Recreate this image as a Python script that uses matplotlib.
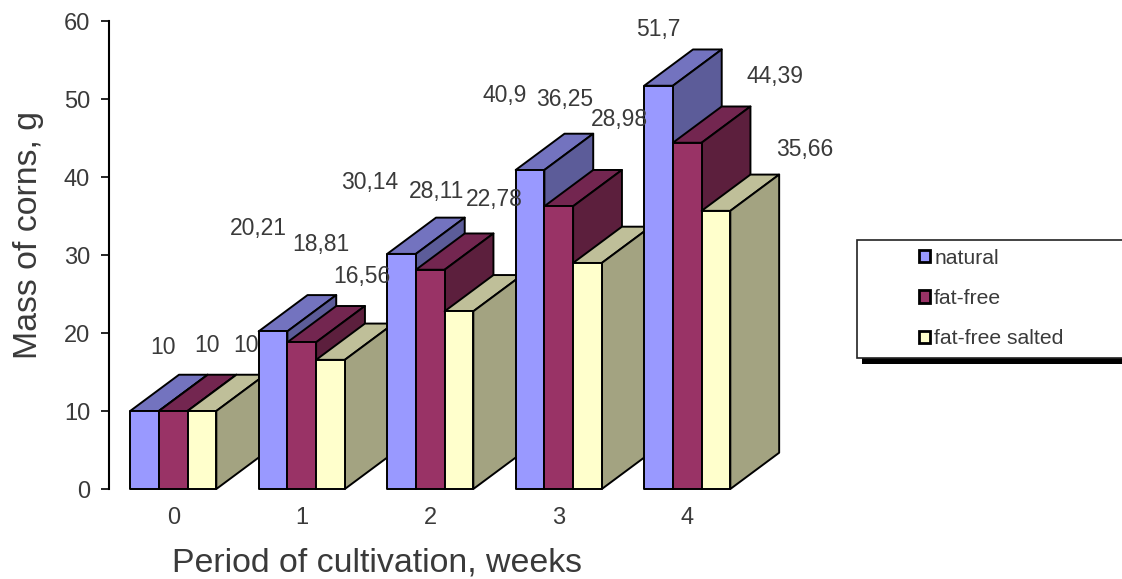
from matplotlib import pyplot as plt
from matplotlib.patches import Patch, Polygon, Rectangle
from matplotlib.transforms import IdentityTransform

weeks = ["0", "1", "2", "3", "4"]
natural = [10, 20.21, 30.14, 40.9, 51.7]
fat_free = [10, 18.81, 28.11, 36.25, 44.39]
fat_free_salted = [10, 16.56, 22.78, 28.98, 35.66]
series_names = ["natural", "fat-free", "fat-free salted"]
y_ticks = [0, 10, 20, 30, 40, 50, 60]

# label text keeps the decimal comma of the original
natural_labels = ["10", "20,21", "30,14", "40,9", "51,7"]
fat_free_labels = ["10", "18,81", "28,11", "36,25", "44,39"]
salted_labels = ["10", "16,56", "22,78", "28,98", "35,66"]

# hand placed labels in the original, pixels from the top of each bar
natural_offsets = [(18, 64), (-15, 103), (-32, 71), (-25, 74), (0, 56)]
fat_free_offsets = [(34, 66), (19, 98), (6, 78), (6, 107), (88, 66)]
salted_offsets = [(44, 66), (31, 83), (35, 112), (32, 143), (89, 61)]

FRONT = ["#9999FF", "#993366", "#FFFFCC"]
TOP = ["#7373BF", "#732650", "#BFBF99"]
SIDE = ["#5C5C99", "#5C1F3D", "#A3A381"]
TEXT = "#3A3A3A"

BAR_W = 0.2235
DEPTH_X = 0.38
DEPTH_Y = 4.65

plt.rcParams["font.family"] = ["Liberation Sans", "DejaVu Sans"]

W, H = 1122, 579
fig = plt.figure(figsize=(W / 100, H / 100), dpi=100)
ax = fig.add_axes([109 / W, (H - 489) / H, 642.5 / W, 468 / H])
ax.set_xlim(-0.5, 4.5)
ax.set_ylim(0, 60)


def draw_bar(x, value, i):
    kw = dict(edgecolor="black", linewidth=1.4, clip_on=False, joinstyle="round")
    ax.add_patch(Polygon(
        [(x, value), (x + DEPTH_X, value + DEPTH_Y),
         (x + BAR_W + DEPTH_X, value + DEPTH_Y), (x + BAR_W, value)],
        facecolor=TOP[i], **kw))
    ax.add_patch(Polygon(
        [(x + BAR_W, 0), (x + BAR_W + DEPTH_X, DEPTH_Y),
         (x + BAR_W + DEPTH_X, value + DEPTH_Y), (x + BAR_W, value)],
        facecolor=SIDE[i], **kw))
    ax.add_patch(Rectangle((x, 0), BAR_W, value, facecolor=FRONT[i], **kw))


all_values = [natural, fat_free, fat_free_salted]
all_labels = [natural_labels, fat_free_labels, salted_labels]
all_offsets = [natural_offsets, fat_free_offsets, salted_offsets]

for g in range(len(weeks)):
    for i in range(3):
        draw_bar(g + (i - 1.5) * BAR_W, all_values[i][g], i)

for g in range(len(weeks)):
    for i in range(3):
        ax.annotate(
            all_labels[i][g],
            xy=(g + (i - 1) * BAR_W, all_values[i][g]),
            xytext=all_offsets[i][g],
            textcoords="offset pixels",
            ha="center",
            va="center",
            fontsize=16.5,
            color=TEXT,
            annotation_clip=False,
            zorder=10,
        )

for side in ["top", "right", "bottom"]:
    ax.spines[side].set_visible(False)
ax.spines["left"].set_linewidth(1.5)
ax.set_xticks(range(len(weeks)))
ax.set_xticklabels(weeks)
ax.set_yticks(y_ticks)
ax.tick_params(axis="x", length=0, pad=13, labelsize=17, labelcolor=TEXT)
ax.tick_params(axis="y", direction="out", length=6, width=1.2, pad=7.5, labelsize=17, labelcolor=TEXT)

ax.set_xlabel("Period of cultivation, weeks", fontsize=24.4, color=TEXT)
ax.xaxis.set_label_coords((377 - 109) / 642.5, -(563 - 489) / 468, transform=ax.transAxes)
ax.xaxis.label.set_va("center")
ax.set_ylabel("Mass of corns, g", fontsize=24.4, color=TEXT)
ax.yaxis.set_label_coords(-(109 - 29) / 642.5, (489 - 235) / 468, transform=ax.transAxes)
ax.yaxis.label.set_va("center")

# legend box runs off the right edge, drop shadow below it
fig.add_artist(Rectangle((862, H - 364), 270, 124, transform=IdentityTransform(),
                         facecolor="black", edgecolor="none"))
fig.add_artist(Rectangle((857, H - 358), 270, 118, transform=IdentityTransform(),
                         facecolor="white", edgecolor="#222222", linewidth=1.2))
handles = [Patch(facecolor=FRONT[i], edgecolor="black", linewidth=2) for i in range(3)]
fig.legend(
    handles,
    series_names,
    loc="center left",
    bbox_to_anchor=(919 / W, (H - 298.5) / H),
    frameon=False,
    fontsize=15.2,
    labelcolor=TEXT,
    handlelength=0.52,
    handleheight=0.5,
    handletextpad=0.2,
    labelspacing=1.0,
    borderaxespad=0,
    borderpad=0,
)

fig.savefig("out.png", dpi=100)
